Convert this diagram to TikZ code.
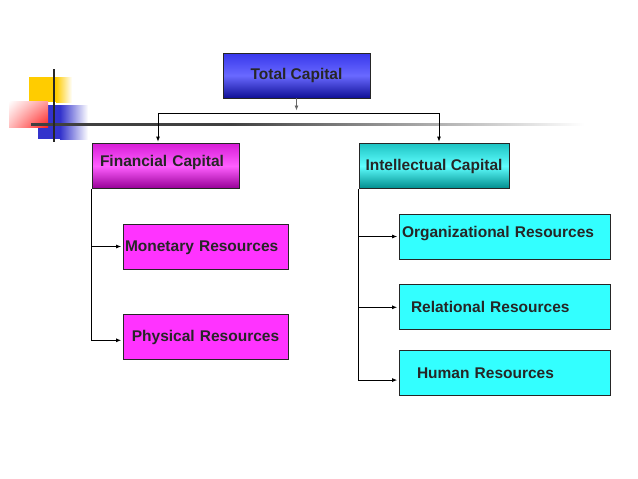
\documentclass[tikz,border=0pt]{standalone}
\usepackage{fontspec}
\setmainfont{Liberation Sans}
\usepackage{tikz}
\usepackage{xcolor}
\usetikzlibrary{positioning, arrows.meta, shadings}

\definecolor{deckyellow}{HTML}{FFCC00}
\definecolor{deckred}{HTML}{FF2020}
\definecolor{deckblue}{HTML}{3333CC}
\definecolor{resmag}{HTML}{FF33FF}
\definecolor{rescyan}{HTML}{33FFFF}

\tikzset{
    box/.style={draw=black!85, line width=0.8pt, minimum height=45pt, inner ysep=0pt,
        font=\fontsize{15.5}{18}\selectfont\bfseries, text=black!85},
    blueshade/.style={top color={rgb,255:red,55;green,55;blue,235}, bottom color={rgb,255:red,15;green,15;blue,150}, middle color={rgb,255:red,105;green,105;blue,255}},
    magshade/.style={top color={rgb,255:red,215;green,30;blue,215}, bottom color={rgb,255:red,150;green,0;blue,150}, middle color={rgb,255:red,255;green,95;blue,255}},
    tealshade/.style={top color={rgb,255:red,30;green,195;blue,195}, bottom color={rgb,255:red,0;green,140;blue,140}, middle color={rgb,255:red,95;green,255;blue,255}},
    arr/.style={-{Latex[length=5pt,width=4pt]}, line width=0.8pt, shorten >=1.5pt}
}

\begin{document}
\begin{tikzpicture}[x=1pt, y=-1pt]
                \useasboundingbox (0,0) rectangle (638,479);

                % slide corner
                \fill[deckyellow] (29,77) rectangle (56,102);
                \shade[left color=deckyellow, right color=white] (56,77) rectangle (72,102);
                \fill[deckblue] (38,105) rectangle (60,139);
                \shade[left color=deckblue, right color=white] (60,105) rectangle (88,139);
                \shade[upper left=white, upper right=deckred!45!white, lower left=deckred!30!white, lower right=deckred] (9,101) rectangle (48,127);
                \fill[black!75] (31,123) rectangle (230,125.5);
                \shade[left color=black!75, right color=white] (230,123) rectangle (584,125.5);
                \draw[line width=2pt, black!85] (54,69) -- (54,142);

                \node [box, blueshade, minimum width=147pt] (total) at (296.5,75.5) {Total Capital};
                \node [box, magshade, text width=131pt, inner xsep=8pt, align=left, text depth=11pt] (fin) at (165.5,166) {Financial Capital};
                \node [box, tealshade, minimum width=150pt] (intel) at (434,166) {Intellectual Capital};

                \node [box, fill=resmag, text width=161pt, inner xsep=2pt, align=left, text depth=1pt] (mon) at (205.5,246.5) {Monetary Resources};
                \node [box, fill=resmag, text width=161pt, inner xsep=2pt, align=center, below=45pt of mon] (phys) {Physical Resources};

                \node [box, fill=rescyan, text width=205pt, inner xsep=3pt, align=left, text depth=10pt] (org) at (504.5,236.5) {Organizational Resources};
                \node [box, fill=rescyan, text width=187pt, inner xsep=12pt, align=left, below=25pt of org] (rel) {Relational Resources};
                \node [box, fill=rescyan, text width=175pt, inner xsep=18pt, align=left, below=20pt of rel] (hum) {Human Resources};

                \coordinate (busL) at (158,113);
                \coordinate (busR) at (439,113);

                \draw[line width=0.8pt] (busL) -- (busR);
                \draw[arr, draw=black!60, shorten >=2.5pt] (total) -- (total |- busL);
                \draw[arr] (busL) -- (busL |- fin.north);
                \draw[arr] (busR) -- (busR |- intel.north);

                \draw[arr] (fin.south west |- mon) -- (mon);
                \draw[arr] (fin.south west) |- ([yshift=-3pt]phys.west);

                \draw[arr] (intel.south west |- org) -- (org);
                \draw[arr] (intel.south west |- rel) -- (rel);
                \draw[arr] (intel.south west) |- ([yshift=-7pt]hum.west);
            \end{tikzpicture}
\end{document}
